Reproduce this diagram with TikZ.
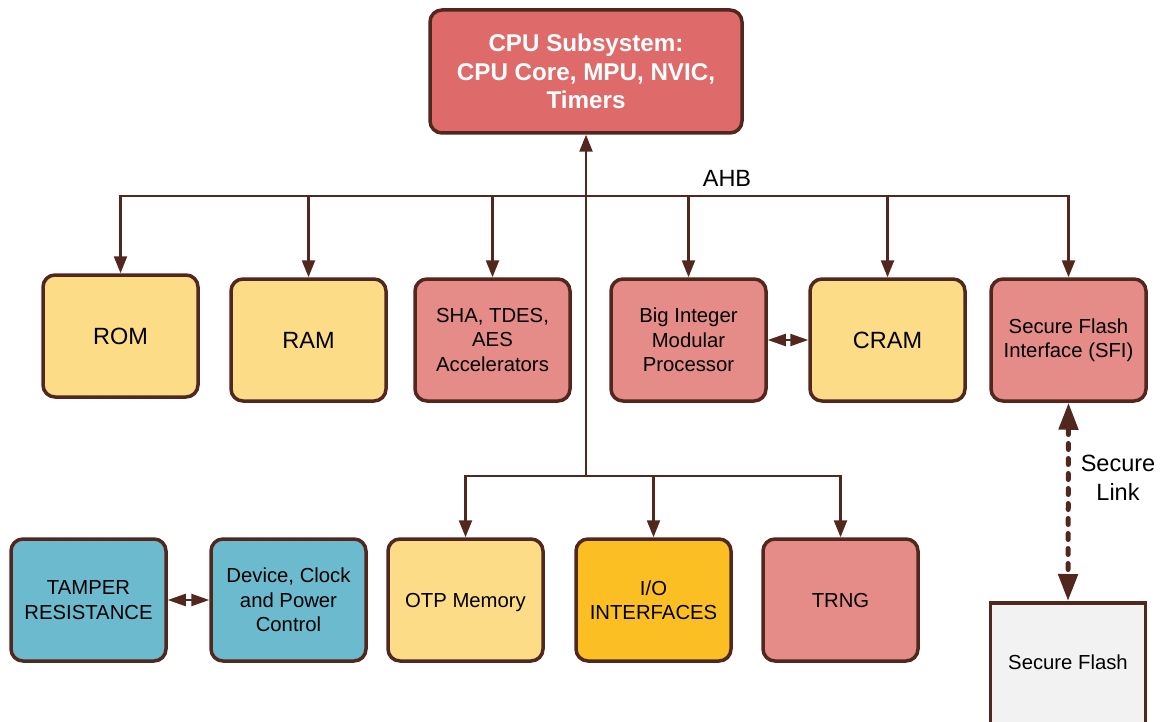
\documentclass[tikz,border=0pt]{standalone}
\usepackage{fontspec}
\setmainfont{Liberation Sans}
\usetikzlibrary{arrows.meta}
\definecolor{brd}{RGB}{82,39,30}
\definecolor{cpuc}{RGB}{222,106,106}
\definecolor{pinkc}{RGB}{229,139,136}
\definecolor{yelc}{RGB}{253,220,135}
\definecolor{orgc}{RGB}{251,191,36}
\definecolor{bluec}{RGB}{108,186,205}
\definecolor{grayc}{RGB}{242,242,242}
\tikzset{
  blk/.style={draw=brd, line width=3.5pt, rounded corners=12pt, minimum width=155pt, minimum height=122pt, inner sep=2pt, align=center, text=black, font=\fontsize{20.3}{24.5}\selectfont},
  bigtxt/.style={font=\fontsize{23.5}{28}\selectfont},
  conn/.style={draw=brd, line width=2.4pt},
  arr/.style={conn, -{Triangle[width=13pt,length=17pt]}},
  darr/.style={conn, {Triangle[width=12pt,length=18pt]}-{Triangle[width=12pt,length=18pt]}},
  dlink/.style={draw=brd, line width=5pt, line cap=round, dash pattern=on 6pt off 9pt, {Triangle[width=19pt,length=27pt,line cap=butt]}-{Triangle[width=19pt,length=27pt,line cap=butt]}},
  lbl/.style={text=black, align=center, font=\fontsize{23.5}{29}\selectfont},
}
\begin{document}
\begin{tikzpicture}[x=1pt,y=-1pt]
\useasboundingbox (0,0) rectangle (1161,722);
\clip (0,0) rectangle (1161,722);
% CPU
\node[blk, fill=cpuc, minimum width=312pt, minimum height=123pt, text=white, font=\bfseries\fontsize{24.2}{28.5}\selectfont] (cpu) at (586,71.5) {CPU Subsystem:\\CPU Core, MPU, NVIC,\\Timers};
% top row
\node[blk, fill=yelc, bigtxt] (rom) at (120.5,336) {ROM};
\node[blk, fill=yelc, bigtxt] (ram) at (308.5,340) {RAM};
\node[blk, fill=pinkc] (sha) at (492.5,340) {SHA, TDES,\\AES\\Accelerators};
\node[blk, fill=pinkc] (bim) at (688.5,340) {Big Integer\\Modular\\Processor};
\node[blk, fill=yelc, bigtxt] (cram) at (887.5,340) {CRAM};
\node[blk, fill=pinkc] (sfi) at (1068.5,340) {Secure Flash\\Interface (SFI)};
% bottom row
\node[blk, fill=bluec] (tamp) at (88.5,600) {TAMPER\\RESISTANCE};
\node[blk, fill=bluec] (dev) at (288.5,600) {Device, Clock\\and Power\\Control};
\node[blk, fill=yelc, text depth=0pt] (otp) at (465.5,600) {OTP Memory};
\node[blk, fill=orgc] (io) at (653.5,600) {I/O\\INTERFACES};
\node[blk, fill=pinkc, text depth=0pt] (trng) at (840.5,600) {TRNG};
% secure flash
\node[draw=brd, line width=3.5pt, fill=grayc, minimum width=155pt, minimum height=150pt, anchor=north] (sflash) at (1068,601) {};
\node[text=black, font=\fontsize{20.3}{24.5}\selectfont] (sflashlbl) at (1068,662) {Secure Flash};
% buses
\coordinate (bus) at (586,196);
\coordinate (lbus) at (586,476);
\draw[arr] (lbus) -- (cpu.south);
\draw[arr] (bus) -| (rom.north);
\draw[arr] (bus) -| (ram.north);
\draw[arr] (bus) -| (sha.north);
\draw[arr] (bus) -| (bim.north);
\draw[arr] (bus) -| (cram.north);
\draw[arr] (bus) -| (sfi.north);
\draw[arr] (lbus) -| (otp.north);
\draw[arr] (lbus) -| (io.north);
\draw[arr] (lbus) -| (trng.north);
\node[lbl] (ahb) at (727,178) {AHB};
% double arrows
\draw[darr] (bim.east) -- (cram.west);
\draw[darr] (tamp.east) -- (dev.west);
% secure link
\draw[dlink] (sfi.south) -- (sflash.north);
\node[lbl] (sl) at (1118,478) {Secure\\Link};
\end{tikzpicture}
\end{document}
